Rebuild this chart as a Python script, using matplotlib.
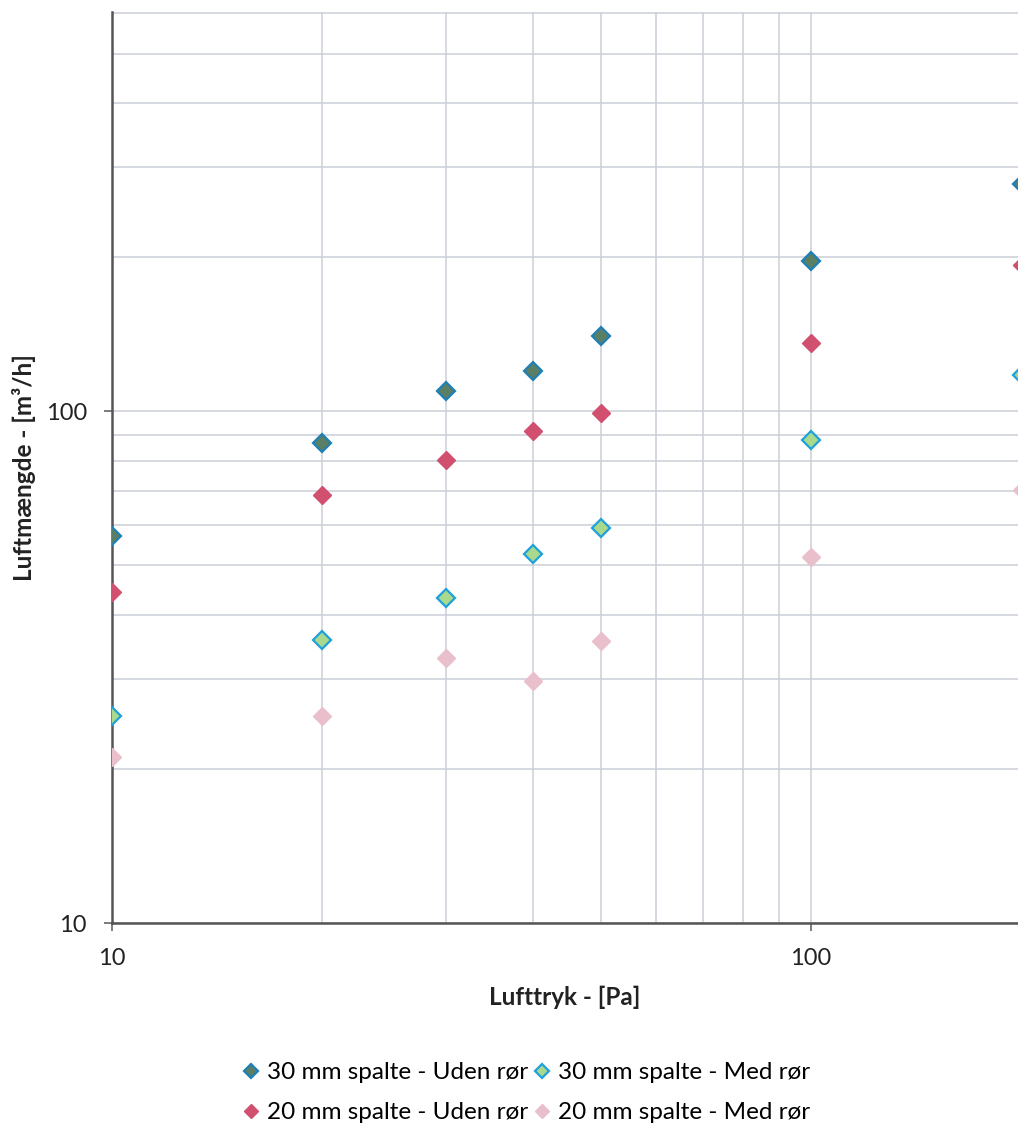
import numpy as np
from matplotlib import pyplot as plt
from matplotlib.ticker import LogLocator, NullFormatter, FixedLocator

plt.rcParams['font.family'] = ['Lato', 'DejaVu Sans']

# tryk i Pa
tryk = [10, 20, 30, 40, 50, 100, 200]

# luftmængde i m3/h
spalte30_uden = [57, 86.6, 109.4, 119.7, 140.7, 197, 278]
spalte30_med = [25.4, 35.7, 43.2, 52.6, 59.3, 87.8, 118]
spalte20_uden = [44.3, 68.5, 80.2, 91.4, 99.5, 135.8, 193.6]
spalte20_med = [21.1, 25.4, 33.0, 29.7, 35.6, 51.9, 70.2]

labels = ["30 mm spalte - Uden rør", "30 mm spalte - Med rør",
          "20 mm spalte - Uden rør", "20 mm spalte - Med rør"]

fig = plt.figure(figsize=(10.18, 11.33), dpi=100)
ax = fig.add_axes([0.110, 0.1853, 0.890, 0.804])

ax.set_xscale("log")
ax.set_yscale("log")
ax.set_xlim(10, 197.7)
ax.set_ylim(10, 603)

ms = 9
h1, = ax.plot(tryk, spalte30_uden, "D", ms=ms, mfc="#5a7f64", mec="#1f80b6", mew=1.6, zorder=3)
h2, = ax.plot(tryk, spalte30_med, "D", ms=ms, mfc="#a8d98c", mec="#1fa2dc", mew=1.6, zorder=3)
h3, = ax.plot(tryk, spalte20_uden, "D", ms=ms, mfc="#d2506f", mec="#d2506f", mew=1.0, zorder=3)
h4, = ax.plot(tryk, spalte20_med, "D", ms=ms, mfc="#e9bfcc", mec="#e9bfcc", mew=1.0, zorder=3)

# gitter
ax.xaxis.set_major_locator(FixedLocator([10, 100]))
ax.yaxis.set_major_locator(FixedLocator([10, 100]))
ax.xaxis.set_minor_locator(LogLocator(base=10, subs=np.arange(2, 10)))
ax.yaxis.set_minor_locator(LogLocator(base=10, subs=np.arange(2, 10)))
ax.xaxis.set_minor_formatter(NullFormatter())
ax.yaxis.set_minor_formatter(NullFormatter())
ax.set_xticklabels(["10", "100"])
ax.set_yticklabels(["10", "100"])
ax.grid(True, which="both", color="#cbced8", linewidth=1.1)
ax.set_axisbelow(True)

ax.tick_params(which="major", direction="out", length=6, width=1.2, color="#666666",
               labelsize=17, labelcolor="#222222", pad=12)
ax.tick_params(which="minor", length=0)

for s in ["top", "right"]:
    ax.spines[s].set_visible(False)
ax.spines["left"].set_color("#555555")
ax.spines["left"].set_linewidth(1.8)
ax.spines["bottom"].set_color("#555555")
ax.spines["bottom"].set_linewidth(1.8)

ax.set_xlabel("Lufttryk - [Pa]", fontsize=17.5, fontweight="bold", color="#222222", labelpad=12)
ax.set_ylabel("Luftmængde - [m³/h]", fontsize=17.5, fontweight="bold", color="#222222", labelpad=7)

# ncol=2 fylder kolonnevis, derfor denne rækkefølge
fig.legend([h1, h3, h2, h4], [labels[0], labels[2], labels[1], labels[3]],
           loc="center", bbox_to_anchor=(0.517, 0.0357), ncol=2, frameon=False,
           fontsize=17.5, markerscale=0.75, handlelength=0.7, handletextpad=0.3,
           columnspacing=0.2, labelspacing=0.78)
fig.savefig("out.png", dpi=100)
